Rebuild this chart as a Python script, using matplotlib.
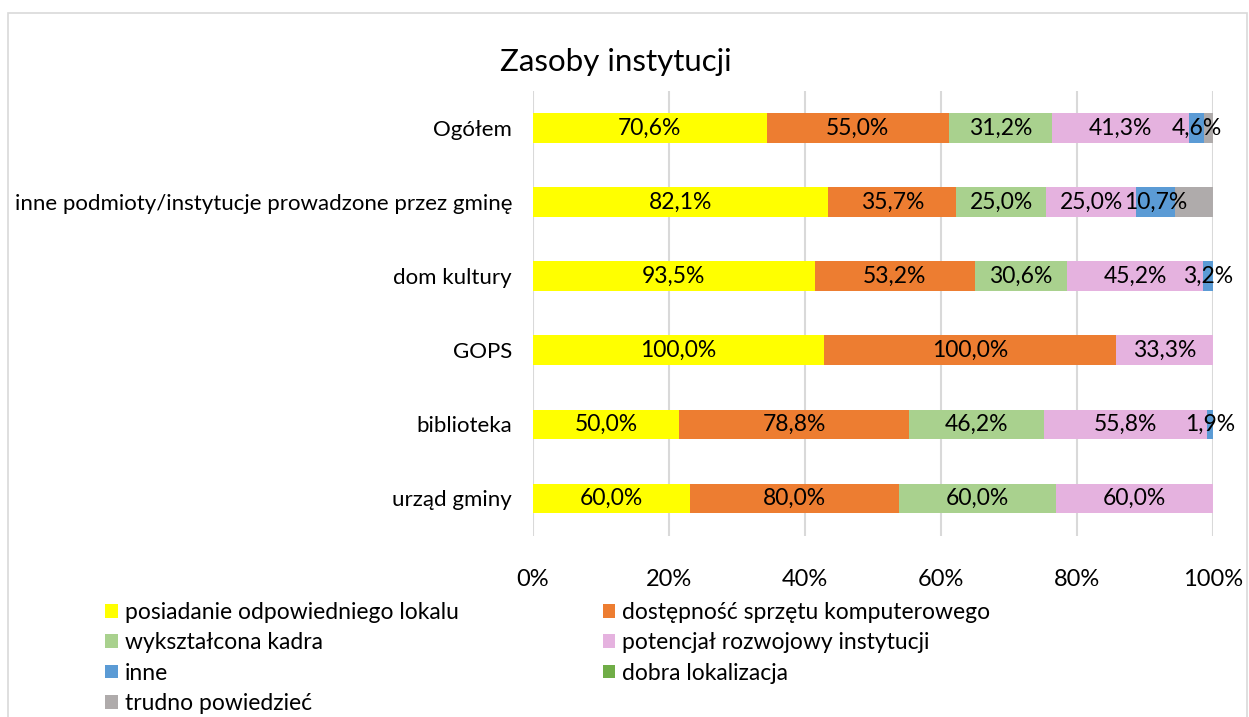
import matplotlib.pyplot as plt
import matplotlib.patches as mpatches
import numpy as np

plt.rcParams['font.family'] = ['Lato', 'DejaVu Sans']

# categories, bottom to top
categories = ['urząd gminy', 'biblioteka', 'GOPS', 'dom kultury',
              'inne podmioty/instytucje prowadzone przez gminę', 'Ogółem']

series_names = ['posiadanie odpowiedniego lokalu', 'dostępność sprzętu komputerowego',
                'wykształcona kadra', 'potencjał rozwojowy instytucji',
                'inne', 'dobra lokalizacja', 'trudno powiedzieć']

lokal = [60.0, 50.0, 100.0, 93.5, 82.1, 70.6]
sprzet = [80.0, 78.8, 100.0, 53.2, 35.7, 55.0]
kadra = [60.0, 46.2, 0.0, 30.6, 25.0, 31.2]
potencjal = [60.0, 55.8, 33.3, 45.2, 25.0, 41.3]
inne = [0.0, 1.9, 0.0, 3.2, 10.7, 4.6]
lokalizacja = [0.0, 0.0, 0.0, 0.0, 0.0, 0.0]
trudno = [0.0, 0.0, 0.0, 0.0, 10.7, 2.7]

colors = ['#FFFF00', '#ED7D31', '#A9D18E', '#E5B2DF', '#5B9BD5', '#70AD47', '#AFABAB']

data = np.array([lokal, sprzet, kadra, potencjal, inne, lokalizacja, trudno])
totals = data.sum(axis=0)
shares = data / totals * 100

fig = plt.figure(figsize=(12.49, 7.17), dpi=100)
ax = fig.add_axes([0.4267, 0.2531, 0.5445, 0.62])

# chart border
fig.patches.append(mpatches.Rectangle((0.0064, -0.01), 0.992, 0.992, transform=fig.transFigure,
                                      fill=False, edgecolor='#d9d9d9', linewidth=1.2))

y = np.arange(len(categories))
left = np.zeros(len(categories))
handles = []
for i, name in enumerate(series_names):
    bars = ax.barh(y, shares[i], left=left, height=0.4, color=colors[i], label=name, zorder=2)
    handles.append(bars)
    if name != 'trudno powiedzieć':
        for j in range(len(categories)):
            if data[i][j] > 0:
                ax.text(left[j] + shares[i][j] / 2, y[j],
                        f'{data[i][j]:.1f}%'.replace('.', ','),
                        ha='center', va='center', fontsize=16.5, color='black', zorder=3)
    left = left + shares[i]

ax.set_xlim(0, 100)
ax.set_ylim(-0.5, len(categories) - 0.5)
ax.set_yticks(y)
ax.set_yticklabels(categories, fontsize=16)
ax.set_xticks([0, 20, 40, 60, 80, 100])
ax.set_xticklabels(['0%', '20%', '40%', '60%', '80%', '100%'], fontsize=17)
ax.tick_params(length=0)
ax.tick_params(axis='y', pad=15)
ax.tick_params(axis='x', pad=24)
ax.grid(axis='x', color='#d9d9d9', linewidth=1.5, zorder=0)
for s in ax.spines.values():
    s.set_visible(False)

fig.text(0.4, 0.913, 'Zasoby instytucji', fontsize=22.5, ha='left', va='center')

order = [0, 2, 4, 6, 1, 3, 5]
leg = fig.legend([handles[k] for k in order], [series_names[k] for k in order],
                 ncol=2, loc='upper left', bbox_to_anchor=(0.075, 0.176),
                 frameon=False, fontsize=16.5, handlelength=0.55, handleheight=0.55,
                 handletextpad=0.3, columnspacing=6.3, labelspacing=0.4, borderpad=0)

fig.savefig('out.png', dpi=100)
